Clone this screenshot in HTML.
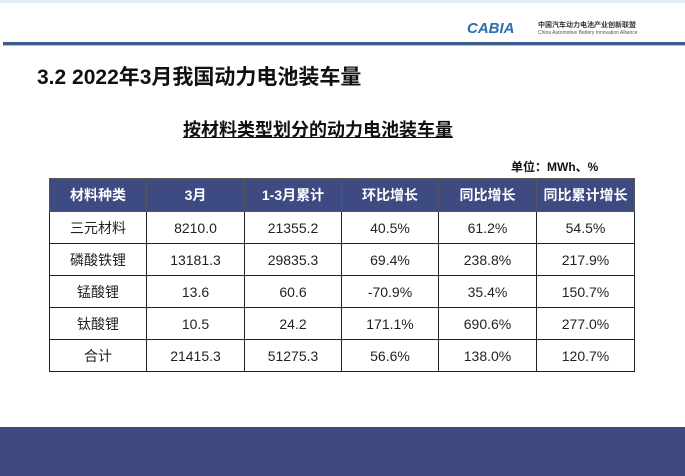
<!DOCTYPE html>
<html><head><meta charset="utf-8"><style>
body{margin:0;width:685px;height:476px;background:#fff;position:relative;overflow:hidden;font-family:"Liberation Sans","Noto Sans CJK SC",sans-serif;}
.abs{position:absolute;}
table{border-collapse:collapse;position:absolute;left:49px;top:178px;width:585px;table-layout:fixed;}
td{border:1px solid #222;text-align:center;font-size:14px;color:#222;height:31px;padding:0;}
tr.h td{background:#3e4a82;color:#fff;height:32px;font-weight:bold;border-color:#555;}
</style></head><body>
<div class="abs" style="left:0;top:0;width:685px;height:3px;background:#e4ecf6"></div>
<div class="abs" style="left:467px;top:20px;font-size:15px;font-style:italic;font-weight:bold;color:#2a6fb0">CABIA</div>
<div class="abs" style="left:538px;top:20px;font-size:7px;color:#333;font-weight:bold">中国汽车动力电池产业创新联盟</div>
<div class="abs" style="left:538px;top:30px;font-size:5px;color:#555">China Automotive Battery Innovation Alliance</div>
<div class="abs" style="left:3px;top:42px;width:682px;height:3px;background:#3b5a8e"></div>
<div class="abs" style="left:3px;top:45px;width:682px;height:1px;background:#a9bdd8"></div>
<div class="abs" style="left:37px;top:61px;font-size:21px;color:#111;font-weight:bold">3.2 2022年3月我国动力电池装车量</div>
<div class="abs" style="left:183px;top:116px;font-size:18px;color:#111;font-weight:bold;text-decoration:underline">按材料类型划分的动力电池装车量</div>
<div class="abs" style="left:511px;top:158px;font-size:12px;color:#111;font-weight:bold">单位：MWh、%</div>
<table>
<colgroup><col style="width:97px"><col style="width:98px"><col style="width:97px"><col style="width:97px"><col style="width:98px"><col style="width:98px"></colgroup>
<tr class="h"><td>材料种类</td><td>3月</td><td>1-3月累计</td><td>环比增长</td><td>同比增长</td><td>同比累计增长</td></tr>
<tr><td>三元材料</td><td>8210.0</td><td>21355.2</td><td>40.5%</td><td>61.2%</td><td>54.5%</td></tr>
<tr><td>磷酸铁锂</td><td>13181.3</td><td>29835.3</td><td>69.4%</td><td>238.8%</td><td>217.9%</td></tr>
<tr><td>锰酸锂</td><td>13.6</td><td>60.6</td><td>-70.9%</td><td>35.4%</td><td>150.7%</td></tr>
<tr><td>钛酸锂</td><td>10.5</td><td>24.2</td><td>171.1%</td><td>690.6%</td><td>277.0%</td></tr>
<tr><td>合计</td><td>21415.3</td><td>51275.3</td><td>56.6%</td><td>138.0%</td><td>120.7%</td></tr>
</table>
<div class="abs" style="left:0;top:427px;width:685px;height:49px;background:#3f4a80"></div>
</body></html>
